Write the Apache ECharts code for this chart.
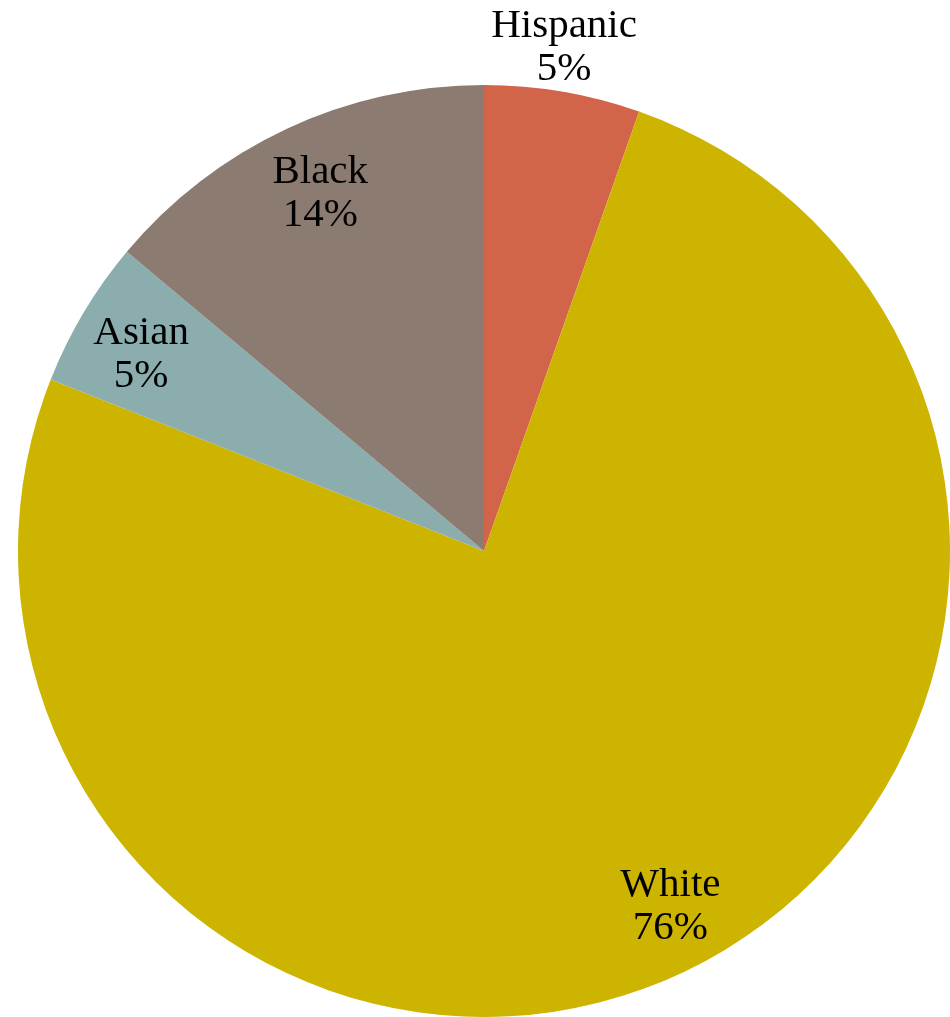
<!DOCTYPE html>
<html>
<head>
<meta charset="utf-8">
<script src="https://cdn.jsdelivr.net/npm/echarts@6/dist/echarts.min.js"></script>
<style>
html,body{margin:0;padding:0;background:#fff;}
#chart{width:950px;height:1017px;}
</style>
</head>
<body>
<div id="chart"></div>
<script>
const categories = ['Hispanic', 'White', 'Asian', 'Black'];
const values = [5.4, 75.6, 5.1, 13.9];
const colors = ['#D2644A', '#CDB400', '#8BADAE', '#8B7B70'];
const outsideLabels = ['Hispanic'];
// label nudges (style only)
const labelOffsets = { Hispanic: [-7, 5], White: [21, -7], Asian: [0, 8], Black: [5, 4] };

const chart = echarts.init(document.getElementById('chart'));
const data = categories.map((c, i) => ({ name: c, value: values[i] }));
const center = [484, 551];
const R = 466;
const fmt = p => p.name + '\n' + Math.round(p.percent) + '%';
const labelStyle = {
  formatter: fmt,
  fontFamily: 'Liberation Serif',
  fontSize: 41,
  lineHeight: 43,
  color: '#000'
};
chart.setOption({
  animation: false,
  series: [
    {
      type: 'pie',
      center: center,
      radius: [0, R],
      startAngle: 90,
      clockwise: true,
      silent: true,
      data: data.map((d, i) => ({ ...d, itemStyle: { color: colors[i] } })),
      label: { show: false },
      labelLine: { show: false }
    },
    {
      type: 'pie',
      center: center,
      radius: [R * 0.7, R],
      startAngle: 90,
      silent: true,
      data: data.map(d => ({
        ...d,
        itemStyle: { color: 'rgba(0,0,0,0)' },
        label: { show: !outsideLabels.includes(d.name), offset: labelOffsets[d.name] }
      })),
      label: Object.assign({ position: 'inside' }, labelStyle),
      labelLine: { show: false }
    },
    {
      type: 'pie',
      center: center,
      radius: [R, R * 1.2],
      startAngle: 90,
      silent: true,
      data: data.map(d => ({
        ...d,
        itemStyle: { color: 'rgba(0,0,0,0)' },
        label: { show: outsideLabels.includes(d.name), offset: labelOffsets[d.name] }
      })),
      label: Object.assign({ position: 'inside' }, labelStyle),
      labelLine: { show: false }
    }
  ]
});
</script>
</body>
</html>
